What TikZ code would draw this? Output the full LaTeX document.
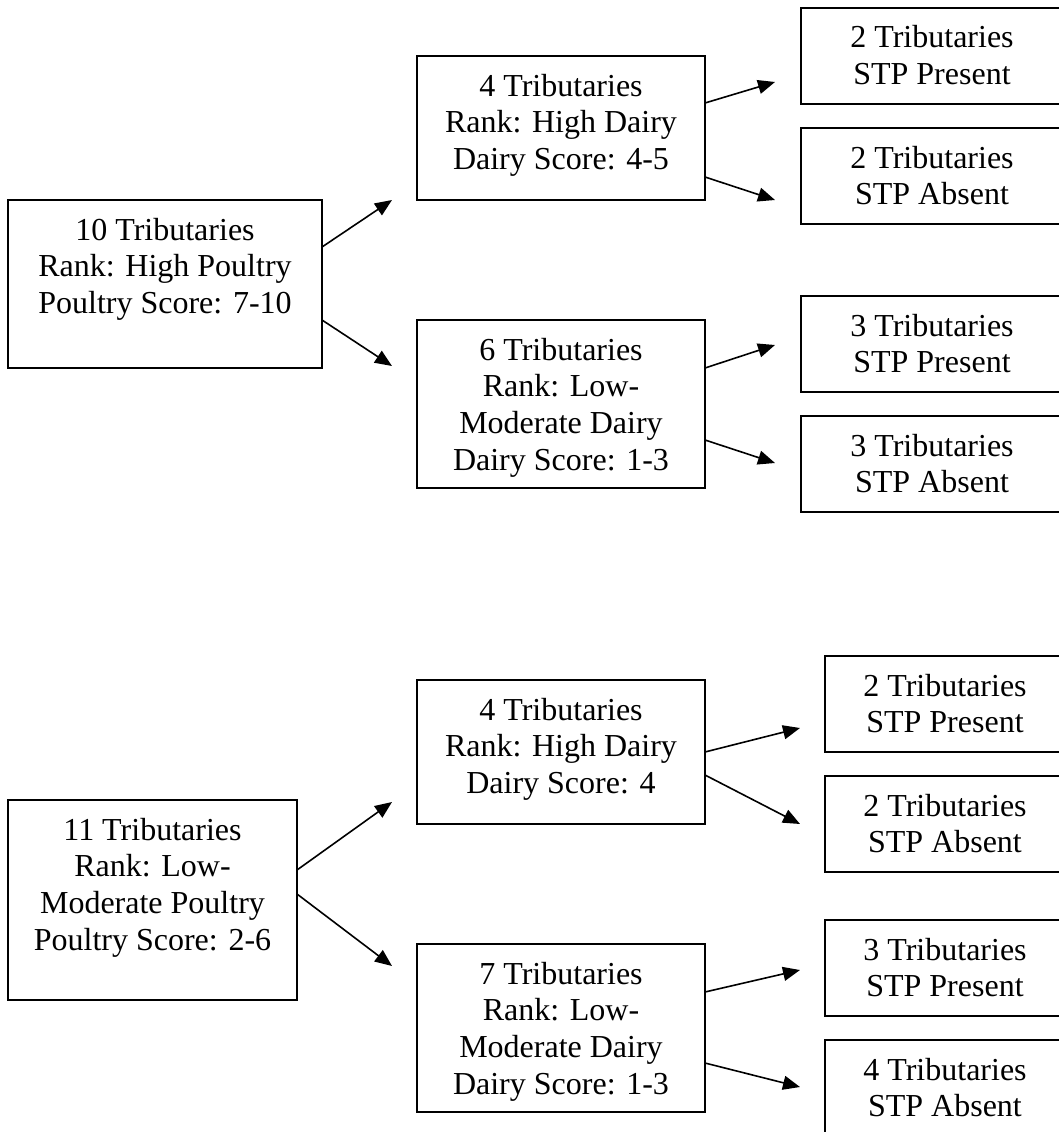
\documentclass[tikz,border=0pt]{standalone}
\usepackage{fontspec}
\setmainfont{Liberation Serif}
\usetikzlibrary{arrows.meta}
\newcommand\boxtext[3]{\parbox[t][#2][t]{#1}{\centering\rule{0pt}{40pt}#3\par}}
\begin{document}
\begin{tikzpicture}[x=1pt,y=-1pt,
  box/.style={draw, line width=1.6pt, inner sep=0pt, outer sep=0pt, anchor=north west,
    font=\fontsize{32}{36.8}\selectfont},
  arr/.style={line width=1.6pt, -{Triangle[length=17pt,width=14pt]}}]
\useasboundingbox (0,0) rectangle (1058,1132);
% ---------- upper tree ----------
\node[box] (A) at (8,200) {\boxtext{314pt}{168pt}{10 Tributaries\\Rank: High Poultry\\Poultry Score: 7-10}};
\node[box] (B) at (417,56) {\boxtext{288pt}{144pt}{4 Tributaries\\Rank: High Dairy\\Dairy Score: 4-5}};
\node[box] (C) at (417,320) {\boxtext{288pt}{168pt}{6 Tributaries\\Rank: Low-\\Moderate Dairy\\Dairy Score: 1-3}};
\node[box] (D1) at (801,8) {\boxtext{262pt}{96pt}{2 Tributaries\\STP Present}};
\node[box] (D2) at (801,128) {\boxtext{262pt}{96pt}{2 Tributaries\\STP Absent}};
\node[box] (E1) at (801,296) {\boxtext{262pt}{96pt}{3 Tributaries\\STP Present}};
\node[box] (E2) at (801,416) {\boxtext{262pt}{96pt}{3 Tributaries\\STP Absent}};
% ---------- lower tree ----------
\node[box] (F) at (8,800) {\boxtext{289pt}{200pt}{11 Tributaries\\Rank: Low-\\Moderate Poultry\\Poultry Score: 2-6}};
\node[box] (G) at (417,680) {\boxtext{288pt}{144pt}{4 Tributaries\\Rank: High Dairy\\Dairy Score: 4}};
\node[box] (J) at (417,944) {\boxtext{288pt}{168pt}{7 Tributaries\\Rank: Low-\\Moderate Dairy\\Dairy Score: 1-3}};
\node[box] (H1) at (825,656) {\boxtext{240pt}{96pt}{2 Tributaries\\STP Present}};
\node[box] (H2) at (825,776) {\boxtext{240pt}{96pt}{2 Tributaries\\STP Absent}};
\node[box] (K1) at (825,920) {\boxtext{240pt}{96pt}{3 Tributaries\\STP Present}};
\node[box] (K2) at (825,1040) {\boxtext{240pt}{96pt}{4 Tributaries\\STP Absent}};
% ---------- arrow tips (free ends) ----------
\coordinate (tB) at (392,200);
\coordinate (tC) at (392,366);
\coordinate (tD1) at (775,82);
\coordinate (tD2) at (775,200);
\coordinate (tE1) at (775,345);
\coordinate (tE2) at (775,463);
\coordinate (tG) at (392,802);
\coordinate (tJ) at (392,966);
\coordinate (tH1) at (800,728);
\coordinate (tH2) at (800,824);
\coordinate (tK1) at (800,970);
\coordinate (tK2) at (800,1087);
% ---------- connectors ----------
\draw[arr] ([yshift=-47pt]A.north east) -- (tB);
\draw[arr] ([yshift=-120pt]A.north east) -- (tC);
\draw[arr] ([yshift=-47pt]B.north east) -- (tD1);
\draw[arr] ([yshift=-121pt]B.north east) -- (tD2);
\draw[arr] ([yshift=-48pt]C.north east) -- (tE1);
\draw[arr] ([yshift=-120pt]C.north east) -- (tE2);
\draw[arr] ([yshift=-70pt]F.north east) -- (tG);
\draw[arr] ([yshift=-94pt]F.north east) -- (tJ);
\draw[arr] ([yshift=-72pt]G.north east) -- (tH1);
\draw[arr] ([yshift=-95pt]G.north east) -- (tH2);
\draw[arr] ([yshift=-48pt]J.north east) -- (tK1);
\draw[arr] ([yshift=-119pt]J.north east) -- (tK2);
\end{tikzpicture}
\end{document}
